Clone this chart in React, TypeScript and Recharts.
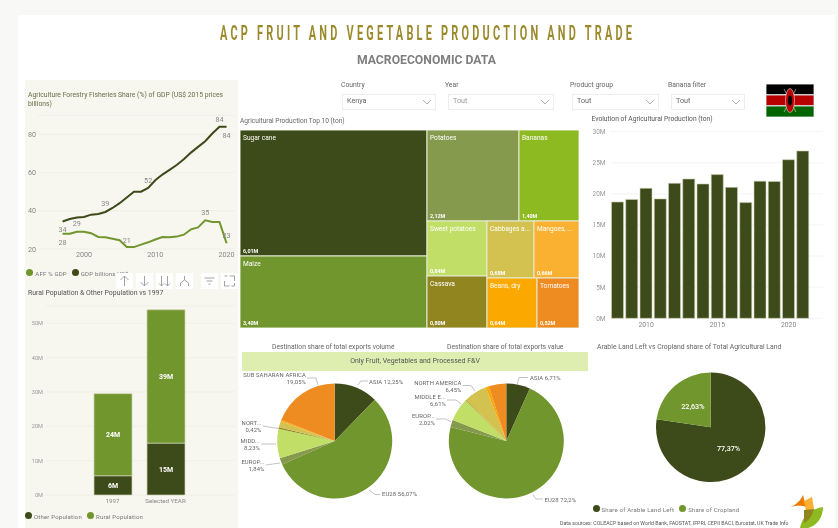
import React from "react";
import {
  Bar,
  BarChart,
  CartesianGrid,
  Cell,
  LabelList,
  Legend,
  Line,
  LineChart,
  Pie,
  PieChart,
  Treemap,
  XAxis,
  YAxis,
} from "recharts";

const FONT = "Roboto, sans-serif";
const DARK = "#3d4a19";
const GREEN = "#71962d";

// left top panel
const years = [1997, 1998, 1999, 2000, 2001, 2002, 2003, 2004, 2005, 2006, 2007, 2008, 2009, 2010, 2011, 2012, 2013, 2014, 2015, 2016, 2017, 2018, 2019, 2020];
const affShare = [28, 28, 29, 29, 28.3, 26.3, 26.2, 25.4, 24.6, 21, 21, 22.3, 23.5, 25, 26.3, 26.2, 26.5, 27.5, 30.3, 31.3, 35, 34.2, 34.2, 23];
const gdpBillions = [34.4, 35.7, 36.5, 36.8, 38, 38.3, 39.4, 41.5, 44, 47, 50, 50, 52, 56, 59, 61.5, 64, 67, 70.5, 73.5, 76.5, 80.5, 84, 84];
const affLabelled: Record<number, number> = { 1997: 11, 1999: -6, 2006: -4.5, 2017: -5, 2020: -5 };
const gdpLabelled: Record<number, number> = { 1997: 10.5, 2003: -5.5, 2009: -5, 2019: -5, 2020: 11 };

// left bottom panel
const popCategories = ["1997", "Selected YEAR"];
const otherPop = [5.6, 15.1];
const ruralPop = [23.9, 38.8];

// treemap
const cropNames = ["Sugar cane", "Maize", "Potatoes", "Bananas", "Sweet potatoes", "Cassava", "Cabbages a...", "Mangoes, ...", "Beans, dry", "Tomatoes"];
const cropValues = [6.01, 3.4, 2.12, 1.4, 0.84, 0.8, 0.68, 0.66, 0.64, 0.52];
const cropColors = [DARK, GREEN, "#869a4d", "#8dba20", "#c1de66", "#91851f", "#d3c24f", "#fab030", "#fba800", "#ee8c22"];

// evolution columns
const prodYears = [2008, 2009, 2010, 2011, 2012, 2013, 2014, 2015, 2016, 2017, 2018, 2019, 2020, 2021];
const prodValues = [18.7, 19.1, 20.9, 19.2, 21.7, 22.4, 21.6, 23.1, 21.05, 18.6, 22.05, 22, 25.5, 26.9];

// destination pies
const destColors = [DARK, GREEN, "#869a4d", "#c1de66", "#91851f", "#d3c24f", "#fba800", "#ee8c22"];
const volumeNames = ["ASIA", "EU28", "EUROP...", "MIDD...", "NORT...", "Other A", "Other B", "SUB SAHARAN AFRICA"];
const volumeValues = [12.25, 56.07, 1.84, 8.23, 0.42, 1.8, 0.34, 19.05];
const valueNames = ["ASIA", "EU28", "EUROP...", "MIDDLE E...", "Other A", "NORTH AMERICA", "Other B", "Other C"];
const valueValues = [6.71, 72.2, 2.02, 6.61, 0.2, 6.45, 0.9, 4.91];

// land pie
const landNames = ["Share of Arable Land Left", "Share of Cropland"];
const landValues = [77.37, 22.63];
const landColors = [DARK, GREEN];

const lineData = years.map((year, i) => ({ year, aff: affShare[i], gdp: gdpBillions[i] }));
const popData = popCategories.map((name, i) => ({ name, other: otherPop[i], rural: ruralPop[i] }));
const cropData = cropNames.map((name, i) => ({ name, value: cropValues[i], fill: cropColors[i] }));
const prodData = prodYears.map((year, i) => ({ year, value: prodValues[i] }));
const volumeData = volumeNames.map((name, i) => ({ name, value: volumeValues[i] }));
const valueData = valueNames.map((name, i) => ({ name, value: valueValues[i] }));
const landData = landNames.map((name, i) => ({ name, value: landValues[i] }));

type Spot = { x: number; y: number; anchor: "start" | "end"; two: boolean; path: string };

// where the outside labels of the two pies sit, in chart pixels
const volumeSpots: Record<number, Spot> = {
  0: { x: 131, y: 48.5, anchor: "start", two: false, path: "120,50 122.7,46 130,46" },
  1: { x: 144, y: 161, anchor: "start", two: false, path: "131,155 137,159.5 142,159.5" },
  2: { x: 26.5, y: 129, anchor: "end", two: true, path: "28,130 42,128" },
  3: { x: 22, y: 107.5, anchor: "end", two: true, path: "23,109 38,109" },
  4: { x: 23.5, y: 90, anchor: "end", two: true, path: "25,91 40,93.5" },
  7: { x: 68, y: 42, anchor: "end", two: true, path: "69,43 78,43 80,50" },
};
const valueSpots: Record<number, Spot> = {
  0: { x: 292, y: 44.5, anchor: "start", two: false, path: "279,50 281,42.5 290,42.5" },
  1: { x: 306.5, y: 166.5, anchor: "start", two: false, path: "295,159.5 298,164 305,164" },
  2: { x: 197, y: 82.5, anchor: "end", two: true, path: "198,84 208,84 213,87" },
  3: { x: 208, y: 63.5, anchor: "end", two: true, path: "209,65 218,65 223,69" },
  5: { x: 223.5, y: 49.5, anchor: "end", two: true, path: "224.5,50.5 233,50.5 237,56" },
};

const pct = (v: number) => `${String(v).replace(".", ",")}%`;

const outsideLabel = (spots: Record<number, Spot>) => (props: any) => {
  const spot = spots[props.index];
  if (!spot) return <g />;
  const common = { fontSize: 5.9, fontFamily: FONT, fill: "#666", textAnchor: spot.anchor, letterSpacing: 0.1 };
  return (
    <g>
      <polyline points={spot.path} fill="none" stroke="#a9a9a9" strokeWidth={0.7} />
      {spot.two ? (
        <>
          <text x={spot.x} y={spot.y} {...common}>{props.name}</text>
          <text x={spot.x} y={spot.y + 7.4} {...common}>{pct(props.value)}</text>
        </>
      ) : (
        <text x={spot.x} y={spot.y} {...common}>{`${props.name} ${pct(props.value)}`}</text>
      )}
    </g>
  );
};

const landLabel = (props: any) => {
  const rad = (Math.PI / 180) * props.midAngle;
  const r = props.outerRadius * 0.5;
  return (
    <text
      x={props.cx + r * Math.cos(rad)}
      y={props.cy - r * Math.sin(rad)}
      fontSize={7.2}
      fontFamily={FONT}
      fontWeight={500}
      fill="#fff"
      textAnchor="middle"
      dominantBaseline="central"
    >
      {pct(props.value)}
    </text>
  );
};

const seriesLabel = (labelled: Record<number, number>, rows: typeof lineData, key: "aff" | "gdp") => (props: any) => {
  const row = rows[props.index];
  const dy = row ? labelled[row.year] : undefined;
  if (dy === undefined) return <g />;
  return (
    <text x={props.x} y={props.y + dy} fontSize={7.2} fontFamily={FONT} fill="#888" textAnchor="middle">
      {Math.round(row[key])}
    </text>
  );
};

const CropCell = (props: any) => {
  const { x, y, width, height, depth, name, value, fill } = props;
  if (depth !== 1) return <g />;
  return (
    <g>
      <rect x={x} y={y} width={width} height={height} fill={fill} stroke="#e6ead6" strokeWidth={1} />
      <text x={x + 3} y={y + 10} fontSize={6.6} fontFamily={FONT} fill="#fff">{name}</text>
      <text x={x + 3} y={y + height - 3} fontSize={5.4} fontFamily={FONT} fill="#fff" fontWeight={700}>
        {`${value.toFixed(2).replace(".", ",")}M`}
      </text>
    </g>
  );
};

// the negative margins pull the text to its marker and the next marker closer
const legendText = (color: string, size: number) => (value: string) => (
  <span style={{ color, fontSize: size, fontFamily: FONT, letterSpacing: 0.2, marginLeft: -2, marginRight: -5, whiteSpace: "nowrap" }}>{value}</span>
);

const Txt = ({ x, y, size, color, children, weight, extra }: any) => (
  <div
    style={{
      position: "absolute",
      left: x,
      top: y,
      fontSize: size,
      color,
      fontFamily: FONT,
      fontWeight: weight || 400,
      whiteSpace: "nowrap",
      lineHeight: 1.2,
      ...extra,
    }}
  >
    {children}
  </div>
);

const Slicer = ({ x, w, label, value, labelX, dim }: any) => (
  <>
    <Txt x={labelX} y={81} size={6.8} color="#666">{label}</Txt>
    <div style={{ position: "absolute", left: x, top: 94, width: w, height: 16, background: "#fff", border: "1px solid #eeeeee", boxSizing: "border-box" }} />
    <Txt x={x + 5} y={97} size={7.2} color={dim ? "#999" : "#666"}>{value}</Txt>
    <svg style={{ position: "absolute", left: x + w - 14, top: 99 }} width={10} height={6}>
      <polyline points="1,1 5,5 9,1" fill="none" stroke="#999" strokeWidth={0.8} />
    </svg>
  </>
);

const ICON_GLYPHS = ["M8 13V3M4 7l4-4 4 4", "M8 3v10M4 9l4 4 4-4", "M5 3v10M2.5 10.5L5 13l2.5-2.5M11 3v10M8.5 10.5L11 13l2.5-2.5", "M8 3v4M4 13v-3l4-3 4 3v3", "M3 5h10M5 8h6M7 11h2", "M3 8v5h5M8 3h5v5M3 3h3M13 10v3h-3"];
const ICON_LEFT = [116, 136, 156, 176, 201, 221];

const App = () => (
  <div style={{ position: "fixed", left: 0, top: 0, width: 838, height: 528, overflow: "hidden", background: "#f8f8f6", filter: "blur(0.35px)" }}>
    <div style={{ position: "absolute", left: 18, top: 15, width: 817, height: 513, background: "#fff" }} />

    <Txt x={220} y={20.5} size={21} color="#9b8a2b" weight={700} extra={{ transform: "scaleX(0.52)", transformOrigin: "left top", letterSpacing: 6.2 }}>
      ACP FRUIT AND VEGETABLE PRODUCTION AND TRADE
    </Txt>
    <Txt x={357} y={52.5} size={12.2} color="#7f7f7f" weight={700}>MACROECONOMIC DATA</Txt>

    <Slicer labelX={341} x={342} w={94} label="Country" value="Kenya" />
    <Slicer labelX={445} x={448} w={106} label="Year" value="Tout" dim />
    <Slicer labelX={570} x={572} w={87} label="Product group" value="Tout" />
    <Slicer labelX={668} x={671} w={74} label="Banana filter" value="Tout" />

    <svg style={{ position: "absolute", left: 766, top: 84 }} width={48} height={33}>
      <rect width={48} height={33} fill="#ccc" />
      <rect x={0.5} y={0.5} width={47} height={9.5} fill="#000" />
      <rect x={0.5} y={11.5} width={47} height={9.5} fill="#b80000" />
      <rect x={0.5} y={22.5} width={47} height={10} fill="#006400" />
      <path d="M18 5L30 28M30 5L18 28" stroke="#ddd" strokeWidth={0.6} />
      <ellipse cx={24} cy={16.5} rx={4.5} ry={12} fill="#b80000" stroke="#fff" strokeWidth={0.5} />
      <ellipse cx={24} cy={16.5} rx={2} ry={5} fill="#000" />
    </svg>

    {/* left column */}
    <div style={{ position: "absolute", left: 25, top: 80, width: 213, height: 448, background: "#f7f6ef" }} />
    <Txt x={28} y={91} size={6.8} color="#6a6f4a" extra={{ width: 205, whiteSpace: "normal", lineHeight: "8.6px" }}>
      Agriculture Forestry Fisheries Share (%) of GDP (US$ 2015 prices billions)
    </Txt>
    <div style={{ position: "absolute", left: 25, top: 80 }}>
      <LineChart width={213} height={205} data={lineData} margin={{ top: 35.4, right: 3, bottom: 22, left: 0 }}>
        <CartesianGrid vertical={false} stroke="#eeeee6" strokeWidth={0.8} />
        <XAxis
          dataKey="year"
          type="number"
          domain={[1993.55, 2021.18]}
          allowDataOverflow
          ticks={[2000, 2010, 2020]}
          axisLine={false}
          tickLine={false}
          tickSize={0}
          tickMargin={3}
          height={14}
          interval={0}
          tick={{ fontSize: 7.2, fill: "#888", fontFamily: FONT }}
        />
        <YAxis
          type="number"
          domain={[20, 90]}
          ticks={[20, 40, 60, 80]}
          width={13}
          axisLine={false}
          tickLine={false}
          tickSize={0}
          tickMargin={2}
          interval={0}
          tick={{ fontSize: 7.2, fill: "#888", fontFamily: FONT }}
        />
        <Line dataKey="aff" name="AFF % GDP" stroke={GREEN} strokeWidth={2} dot={false} isAnimationActive={false} label={seriesLabel(affLabelled, lineData, "aff")} />
        <Line dataKey="gdp" name="GDP billions US$" stroke={DARK} strokeWidth={2} dot={false} isAnimationActive={false} label={seriesLabel(gdpLabelled, lineData, "gdp")} />
        <Legend
          layout="horizontal"
          verticalAlign="middle"
          align="center"
          iconType="circle"
          iconSize={7}
          formatter={legendText("#777", 6)}
          wrapperStyle={{ left: -15, top: 181.7, width: 140, height: 10, bottom: "auto" }}
        />
      </LineChart>
    </div>
    {ICON_LEFT.map((left, i) => (
      <svg key={left} style={{ position: "absolute", left, top: 273, background: "#fff" }} width={17} height={16} viewBox="0 0 16 16">
        <path d={ICON_GLYPHS[i]} fill="none" stroke="#999" strokeWidth={0.9} />
      </svg>
    ))}

    <Txt x={28} y={289} size={6.9} color="#555">Rural Population &amp; Other Population vs 1997</Txt>
    <div style={{ position: "absolute", left: 25, top: 300 }}>
      <BarChart width={213} height={225} data={popData} margin={{ top: 6, right: 3, bottom: 16, left: 0 }} barSize={38}>
        <CartesianGrid vertical={false} stroke="#eeeee6" strokeWidth={0.8} />
        <XAxis
          dataKey="name"
          axisLine={false}
          tickLine={false}
          tickSize={0}
          tickMargin={4}
          height={14}
          interval={0}
          padding={{ left: 40, right: 43 }}
          tick={{ fontSize: 6.2, fill: "#888", fontFamily: FONT }}
        />
        <YAxis
          domain={[0, 55]}
          ticks={[0, 10, 20, 30, 40, 50]}
          width={21}
          axisLine={false}
          tickLine={false}
          tickSize={0}
          tickMargin={3}
          interval={0}
          tickFormatter={(v: number) => `${v}M`}
          tick={{ fontSize: 5.6, fill: "#999", fontFamily: FONT }}
        />
        <Bar dataKey="other" name="Other Population" stackId="pop" fill={DARK} stroke="#cdd2b4" strokeWidth={0.7} isAnimationActive={false}>
          <LabelList dataKey="other" position="center" formatter={(v: any) => `${Math.round(v)}M`} style={{ fontSize: 7, fontFamily: FONT, fontWeight: 700, fill: "#fff" }} />
        </Bar>
        <Bar dataKey="rural" name="Rural Population" stackId="pop" fill={GREEN} stroke="#cdd2b4" strokeWidth={0.7} isAnimationActive={false}>
          <LabelList dataKey="rural" position="center" formatter={(v: any) => `${Math.round(v)}M`} style={{ fontSize: 7, fontFamily: FONT, fontWeight: 700, fill: "#fff" }} />
        </Bar>
        <Legend
          layout="horizontal"
          verticalAlign="middle"
          align="center"
          iconType="circle"
          iconSize={7}
          formatter={legendText("#777", 6)}
          wrapperStyle={{ left: -8.5, top: 204.7, width: 140, height: 10, bottom: "auto" }}
        />
      </BarChart>
    </div>

    {/* treemap */}
    <Txt x={240} y={118} size={6.6} color="#666">Agricultural Production Top 10 (ton)</Txt>
    <div style={{ position: "absolute", left: 240, top: 130 }}>
      <Treemap
        width={339}
        height={198}
        data={cropData}
        dataKey="value"
        nameKey="name"
        type="flat"
        isAnimationActive={false}
        content={<CropCell />}
      />
    </div>

    {/* evolution */}
    <Txt x={591.5} y={114.5} size={6.7} color="#555">Evolution of Agricultural Production (ton)</Txt>
    <div style={{ position: "absolute", left: 585, top: 125 }}>
      <BarChart width={240} height={208} data={prodData} margin={{ top: 6.7, right: 2, bottom: 0, left: 0 }} barSize={12}>
        <CartesianGrid vertical={false} stroke="#f0f0f0" strokeWidth={0.8} />
        <XAxis
          dataKey="year"
          axisLine={false}
          tickLine={false}
          tickSize={0}
          tickMargin={4}
          height={14.7}
          ticks={[2010, 2015, 2020]}
          interval={0}
          padding={{ left: 0, right: 13 }}
          tick={{ fontSize: 6.8, fill: "#888", fontFamily: FONT }}
        />
        <YAxis
          domain={[0, 30]}
          ticks={[0, 5, 10, 15, 20, 25, 30]}
          width={25.5}
          axisLine={false}
          tickLine={false}
          tickSize={0}
          tickMargin={5}
          interval={0}
          tickFormatter={(v: number) => `${v}M`}
          tick={{ fontSize: 6.5, fill: "#999", fontFamily: FONT }}
        />
        <Bar dataKey="value" fill={DARK} stroke="#cdd2b4" strokeWidth={0.6} isAnimationActive={false} />
      </BarChart>
    </div>

    {/* destination pies */}
    <Txt x={272} y={343} size={6.7} color="#666">Destination share of total exports volume</Txt>
    <Txt x={447} y={343} size={6.7} color="#666">Destination share of total exports value</Txt>
    <div style={{ position: "absolute", left: 242, top: 352, width: 346, height: 19, background: "#deeeb0", color: "#555", fontFamily: FONT, fontSize: 7, textAlign: "center", lineHeight: "19px" }}>
      Only Fruit, Vegetables and Processed F&amp;V
    </div>
    <div style={{ position: "absolute", left: 238, top: 335 }}>
      <PieChart width={352} height={193} margin={{ top: 0, right: 0, bottom: 0, left: 0 }}>
        <Pie
          data={volumeData}
          dataKey="value"
          nameKey="name"
          cx={96.7}
          cy={106}
          outerRadius={57.5}
          startAngle={90}
          endAngle={-270}
          stroke="none"
          labelLine={false}
          label={outsideLabel(volumeSpots)}
          isAnimationActive={false}
        >
          {volumeData.map((_, i) => (
            <Cell key={`vol-${i}`} fill={destColors[i]} />
          ))}
        </Pie>
        <Pie
          data={valueData}
          dataKey="value"
          nameKey="name"
          cx={268.3}
          cy={106}
          outerRadius={57.5}
          startAngle={90}
          endAngle={-270}
          stroke="none"
          labelLine={false}
          label={outsideLabel(valueSpots)}
          isAnimationActive={false}
        >
          {valueData.map((_, i) => (
            <Cell key={`val-${i}`} fill={destColors[i]} />
          ))}
        </Pie>
      </PieChart>
    </div>

    {/* land pie */}
    <Txt x={597} y={343} size={6.85} color="#666">Arable Land Left vs Cropland share of Total Agricultural Land</Txt>
    <div style={{ position: "absolute", left: 590, top: 335 }}>
      <PieChart width={200} height={186} margin={{ top: 0, right: 0, bottom: 0, left: 0 }}>
        <Pie
          data={landData}
          dataKey="value"
          nameKey="name"
          cx={120.7}
          cy={92.3}
          outerRadius={54.7}
          startAngle={90}
          endAngle={-270}
          stroke="none"
          labelLine={false}
          label={landLabel}
          isAnimationActive={false}
        >
          {landData.map((_, i) => (
            <Cell key={`land-${i}`} fill={landColors[i]} />
          ))}
        </Pie>
        <Legend
          layout="horizontal"
          verticalAlign="middle"
          align="center"
          iconType="circle"
          iconSize={7}
          formatter={legendText("#777", 6)}
          wrapperStyle={{ left: -6.5, top: 163, width: 170, height: 10, bottom: "auto" }}
        />
      </PieChart>
    </div>

    <Txt x={560} y={519.5} size={5.25} color="#555">Data sources: COLEACP based on World Bank, FAOSTAT, IFPRI, CEPII BACI, Eurostat, UK Trade Info</Txt>
    <svg style={{ position: "absolute", left: 788, top: 493 }} width={38} height={35}>
      <path d="M2 14 C8 12 12 8 15 2 L18 14 C12 12 8 13 2 14Z" fill="#ee7a00" />
      <path d="M16 8 L24 4 L26 16 L18 18Z" fill="#fab030" />
      <path d="M12 35 C14 24 22 16 35 14 C35 25 28 33 20 35Z" fill="#8dba20" />
      <path d="M16 17 L26 16 C24 24 20 28 16 30Z" fill="#91851f" />
    </svg>
  </div>
);

export default App;
